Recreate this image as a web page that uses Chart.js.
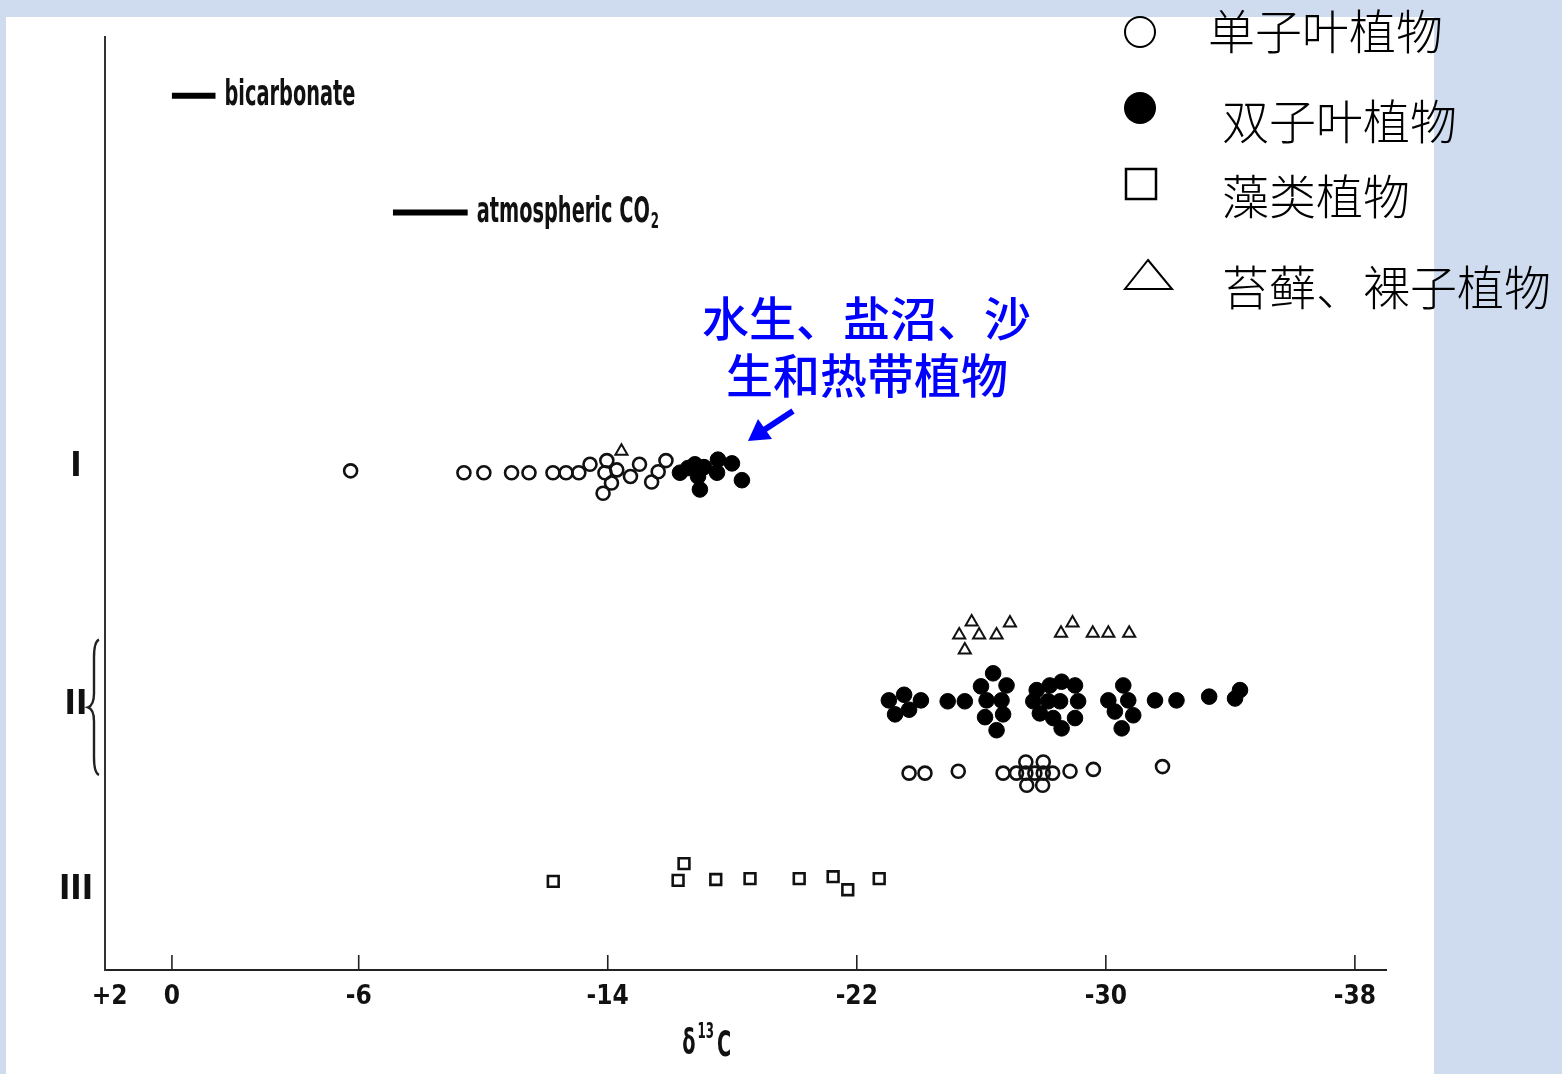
<!DOCTYPE html>
<html>
<head>
<meta charset="utf-8">
<script src="https://cdn.jsdelivr.net/npm/chart.js@4.4.1/dist/chart.umd.min.js"></script>
<style>
  html, body { margin: 0; padding: 0; }
  body { width: 1562px; height: 1074px; background: #cfdcef; position: relative; overflow: hidden; }
  #paper { position: absolute; left: 6px; top: 17px; width: 1428px; height: 1057px; background: #fff; }
  #chart { position: absolute; left: 0; top: 0; }
</style>
</head>
<body>
<div id="paper"></div>
<canvas id="chart" width="1562" height="1074"></canvas>
<script>
// δ13C 分布图 —— 数据

const rowLabels = ['I', 'II', 'III'];
const rowY = [53.9, 28.4, 8.6];
const xTickValues = [2, 0, -6, -14, -22, -30, -38];

// 单子叶植物 (空心圆)
const monocotX = [-5.74, -9.38, -10.02, -10.91, -11.47, -12.24, -12.66, -13.07, -13.43, -13.97, -13.91, -14.29, -14.12, -13.85, -14.73, -15.02, -15.41, -15.62, -15.87,
                  -23.68, -24.19, -25.26, -26.70, -27.13, -27.43, -27.43, -27.72, -27.99, -27.99, -28.29, -27.46, -27.97, -28.85, -29.60, -31.82];
const monocotY = [53.5, 53.3, 53.3, 53.3, 53.3, 53.3, 53.3, 53.3, 54.2, 54.6, 53.3, 53.6, 52.2, 51.1, 52.9, 54.2, 52.3, 53.4, 54.6,
                  21.1, 21.1, 21.3, 21.1, 21.1, 22.3, 21.1, 21.1, 22.3, 21.1, 21.1, 19.8, 19.8, 21.3, 21.5, 21.8];

// 双子叶植物 (实心圆)
const dicotX = [-16.32, -16.58, -16.80, -16.90, -17.09, -16.96, -17.54, -17.51, -17.99, -18.31,
                -23.03, -23.52, -24.06, -23.23, -23.68, -24.92, -25.47, -25.99, -26.38, -26.81, -26.17, -26.65, -26.12, -26.70, -26.49,
                -27.67, -27.78, -28.20, -28.58, -29.01, -28.15, -28.53, -29.11, -27.88, -28.31, -29.01, -28.58,
                -30.56, -30.08, -30.72, -30.29, -30.88, -30.51, -31.58, -32.27, -33.32, -34.15, -34.31];
const dicotY = [53.3, 53.8, 54.2, 52.9, 53.9, 51.5, 54.7, 53.3, 54.3, 52.5,
                28.9, 29.5, 28.9, 27.4, 27.9, 28.8, 28.8, 30.4, 31.8, 30.5, 28.9, 28.9, 27.1, 27.4, 25.7,
                28.8, 30.0, 30.5, 30.9, 30.5, 28.8, 28.8, 28.8, 27.5, 27.0, 27.0, 25.9,
                30.5, 28.9, 28.9, 27.7, 27.3, 25.9, 28.9, 28.9, 29.3, 29.1, 30.0];

// 藻类植物 (空心方块)
const algaeX = [-12.25, -16.26, -16.45, -17.47, -18.57, -20.15, -21.24, -21.71, -22.72];
const algaeY = [9.5, 9.6, 11.4, 9.7, 9.8, 9.8, 10.0, 8.6, 9.8];

// 苔藓、裸子植物 (空心三角)
const mossX = [-14.44, -25.69, -25.29, -25.47, -25.93, -26.49, -26.92, -28.56, -28.93, -29.58, -30.08, -30.75];
const mossY = [55.6, 37.3, 35.9, 34.3, 35.9, 35.9, 37.2, 36.1, 37.2, 36.1, 36.1, 36.1];

// 参考值横线
const refNames = ['bicarbonate', 'atmospheric CO'];
const refFrom = [0, -7.1];
const refTo = [-1.4, -9.5];
const refY = [93.7, 81.2];

const legendLabels = ['单子叶植物', '双子叶植物', '藻类植物', '苔藓、裸子植物'];
const noteLines = ['水生、盐沼、沙', '生和热带植物'];
const braceRange = [35.4, 20.9];

const narrowFont = '"Liberation Sans Narrow", "DejaVu Sans Condensed", "Arial Narrow", sans-serif';
const cjkFont = '"Noto Sans CJK SC", "Noto Sans CJK TC", sans-serif';

function toPoints(xs, ys) {
    return xs.map((x, i) => ({ x: x, y: ys[i] }));
}

// 压扁的粗体文字
function squashText(ctx, text, x, y, size, sx, align) {
    ctx.save();
    ctx.font = 'bold ' + size + 'px ' + narrowFont;
    ctx.textBaseline = 'middle';
    ctx.textAlign = 'left';
    const w = ctx.measureText(text).width * sx;
    let left = x;
    if (align === 'center') left = x - w / 2;
    ctx.translate(left, y);
    ctx.scale(sx, 1);
    ctx.fillText(text, 0, 0);
    ctx.restore();
    return w;
}

const extrasPlugin = {
    id: 'extras',
    afterDraw(chart) {
        const ctx = chart.ctx;
        const xs = chart.scales.x;
        const ys = chart.scales.y;
        const area = chart.chartArea;
        ctx.save();
        ctx.fillStyle = '#111';
        ctx.strokeStyle = '#222';

        // x 轴内侧刻度线
        ctx.lineWidth = 1.6;
        xTickValues.forEach(v => {
            if (v > 0) return;
            const px = xs.getPixelForValue(v);
            ctx.beginPath();
            ctx.moveTo(px, area.bottom);
            ctx.lineTo(px, area.bottom - 15);
            ctx.stroke();
        });

        // II 的花括号
        const top = ys.getPixelForValue(braceRange[0]);
        const bot = ys.getPixelForValue(braceRange[1]);
        const mid = (top + bot) / 2;
        const x0 = area.left - 6;
        const x1 = x0 - 5;
        const xm = x0 - 11;
        ctx.lineWidth = 2.4;
        ctx.beginPath();
        ctx.moveTo(x0, top);
        ctx.quadraticCurveTo(x1, top + 2, x1, top + 18);
        ctx.lineTo(x1, mid - 14);
        ctx.quadraticCurveTo(x1, mid - 2, xm, mid);
        ctx.quadraticCurveTo(x1, mid + 2, x1, mid + 14);
        ctx.lineTo(x1, bot - 18);
        ctx.quadraticCurveTo(x1, bot - 2, x0, bot);
        ctx.stroke();

        // 参考线标签
        ctx.font = 'bold 36px ' + narrowFont;
        const sx = 131 / ctx.measureText(refNames[0]).width;
        refNames.forEach((name, i) => {
            const px = xs.getPixelForValue(refTo[i]) + 9;
            const py = ys.getPixelForValue(refY[i]);
            const w = squashText(ctx, name, px, py, 36, sx, 'left');
            if (i === 1) {
                squashText(ctx, '2', px + w + 1, py + 10, 22, sx, 'left');
            }
        });

        // x 轴标题 δ13C
        const tx = xs.getPixelForValue(-17.1);
        const ty = 1045;
        const w1 = squashText(ctx, 'δ', tx - 22, ty, 36, sx, 'left');
        const w2 = squashText(ctx, '13', tx - 22 + w1 + 2, ty - 13, 22, sx, 'left');
        squashText(ctx, 'C', tx - 22 + w1 + w2 + 5, ty + 2, 36, sx, 'left');

        // 图例
        ctx.lineWidth = 2;
        ctx.strokeStyle = '#000';
        ctx.fillStyle = '#000';
        ctx.beginPath();
        ctx.arc(1140, 32, 15, 0, Math.PI * 2);
        ctx.stroke();
        ctx.beginPath();
        ctx.arc(1140, 108, 16, 0, Math.PI * 2);
        ctx.fill();
        ctx.lineWidth = 2.5;
        ctx.strokeRect(1126, 169, 30, 30);
        ctx.lineWidth = 2;
        ctx.beginPath();
        ctx.moveTo(1148, 260);
        ctx.lineTo(1172, 289);
        ctx.lineTo(1125, 289);
        ctx.closePath();
        ctx.stroke();

        ctx.font = '300 47px ' + cjkFont;
        ctx.textBaseline = 'middle';
        ctx.textAlign = 'left';
        const legPos = [[1208, 31], [1222, 121], [1222, 196], [1222, 287]];
        legendLabels.forEach((t, i) => ctx.fillText(t, legPos[i][0], legPos[i][1]));

        // 蓝色注释与箭头
        ctx.fillStyle = '#0000ff';
        ctx.strokeStyle = '#0000ff';
        ctx.font = '500 47px ' + cjkFont;
        ctx.fillText(noteLines[0], 702, 318);
        ctx.fillText(noteLines[1], 726, 375);

        ctx.lineWidth = 6;
        ctx.beginPath();
        ctx.moveTo(793, 411);
        ctx.lineTo(764, 430);
        ctx.stroke();
        ctx.beginPath();
        ctx.moveTo(748, 441);
        ctx.lineTo(758, 419);
        ctx.lineTo(772, 439);
        ctx.closePath();
        ctx.fill();

        ctx.restore();
    }
};

const refDatasets = refNames.map((name, i) => ({
    type: 'line',
    label: name,
    data: [{ x: refFrom[i], y: refY[i] }, { x: refTo[i], y: refY[i] }],
    borderColor: '#000',
    borderWidth: 6,
    pointRadius: 0,
    fill: false
}));

new Chart(document.getElementById('chart'), {
    type: 'scatter',
    data: {
        datasets: [
            {
                label: legendLabels[0],
                data: toPoints(monocotX, monocotY),
                pointStyle: 'circle',
                pointRadius: 6.5,
                borderWidth: 2.6,
                borderColor: '#111',
                backgroundColor: 'rgba(0,0,0,0)'
            },
            {
                label: legendLabels[1],
                data: toPoints(dicotX, dicotY),
                pointStyle: 'circle',
                pointRadius: 7.8,
                borderWidth: 1,
                borderColor: '#000',
                backgroundColor: '#000'
            },
            {
                label: legendLabels[2],
                data: toPoints(algaeX, algaeY),
                pointStyle: 'rect',
                pointRadius: 7.6,
                borderWidth: 2.6,
                borderColor: '#111',
                backgroundColor: 'rgba(0,0,0,0)'
            },
            {
                label: legendLabels[3],
                data: toPoints(mossX, mossY),
                pointStyle: 'triangle',
                pointRadius: 7,
                borderWidth: 2,
                borderColor: '#111',
                backgroundColor: 'rgba(0,0,0,0)'
            },
            ...refDatasets
        ]
    },
    options: {
        responsive: false,
        animation: false,
        layout: {
            padding: { left: 0, top: 37, right: 176, bottom: 0 }
        },
        plugins: {
            legend: { display: false },
            tooltip: { enabled: false }
        },
        scales: {
            x: {
                type: 'linear',
                reverse: true,
                min: -39,
                max: 2.15,
                afterBuildTicks: s => { s.ticks = xTickValues.map(v => ({ value: v })); },
                afterFit: s => { s.height = 104; },
                grid: { display: false, drawTicks: false },
                border: { display: true, color: '#222', width: 2 },
                ticks: {
                    autoSkip: false,
                    maxRotation: 0,
                    padding: 12,
                    color: '#111',
                    font: { family: narrowFont, size: 26, weight: 'bold' },
                    callback: v => (v > 0 ? '+' + v : String(v))
                }
            },
            y: {
                type: 'linear',
                min: 0,
                max: 100,
                afterBuildTicks: s => { s.ticks = rowY.map(v => ({ value: v })); },
                afterFit: s => { s.width = 105; },
                grid: { display: false, drawTicks: false },
                border: { display: true, color: '#333', width: 2 },
                ticks: {
                    autoSkip: false,
                    padding: 12,
                    crossAlign: 'center',
                    color: '#111',
                    font: { family: narrowFont, size: 34, weight: 'bold' },
                    callback: (v, i) => rowLabels[i]
                }
            }
        }
    },
    plugins: [extrasPlugin]
});
</script>
</body>
</html>
